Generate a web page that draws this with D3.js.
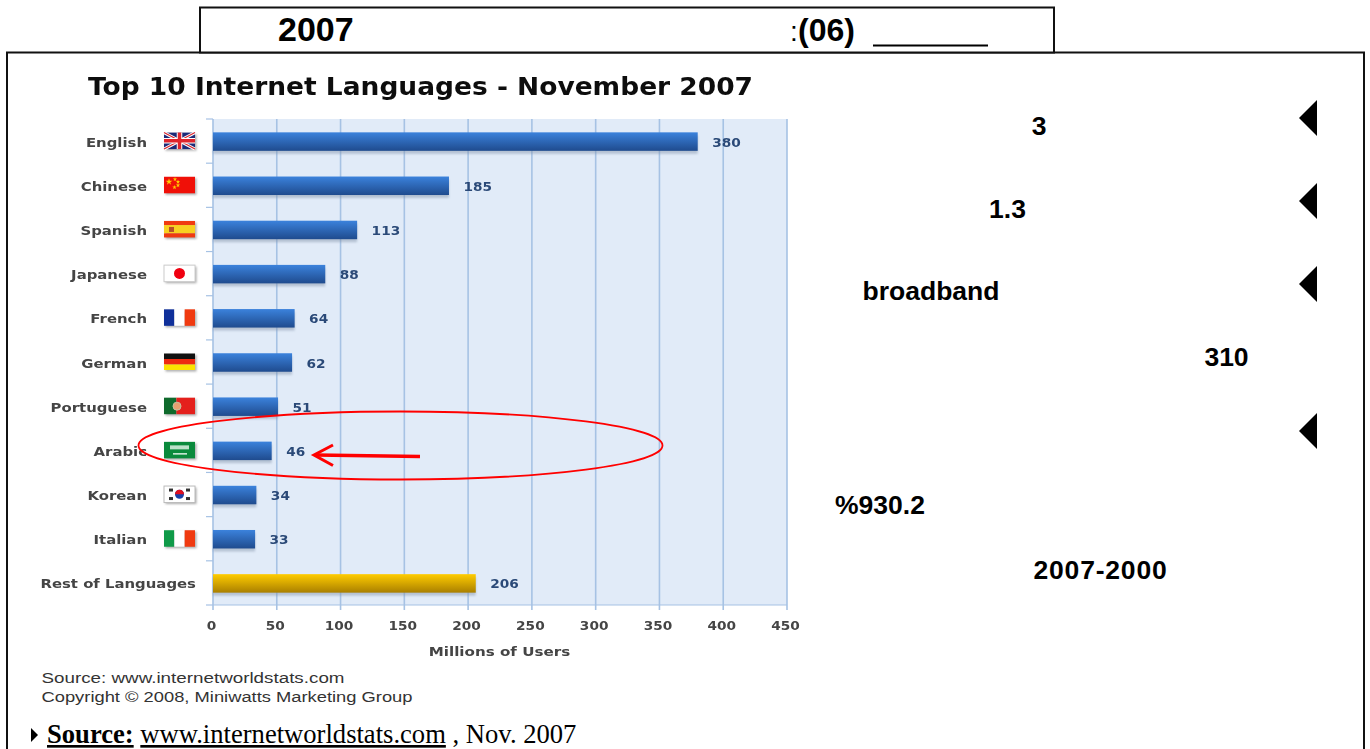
<!DOCTYPE html>
<html>
<head>
<meta charset="utf-8">
<style>
  html, body { margin: 0; padding: 0; background: #fff; overflow: hidden; }
  svg { display: block; }
</style>
<script src="https://cdn.jsdelivr.net/npm/d3@7"></script>
</head>
<body>
<svg id="svg" width="1370" height="749"></svg>
<script>
const languages = ['English', 'Chinese', 'Spanish', 'Japanese', 'French', 'German', 'Portuguese', 'Arabic', 'Korean', 'Italian', 'Rest of Languages']
const users = [380, 185, 113, 88, 64, 62, 51, 46, 34, 33, 206]
const xTicks = [0, 50, 100, 150, 200, 250, 300, 350, 400, 450]

const data = languages.map((language, i) => ({ language, users: users[i] }))

const svg = d3.select('#svg')
const chartFont = '"DejaVu Sans", Verdana, sans-serif'
const arial = '"Liberation Sans", Arial, sans-serif'

const x = d3.scaleLinear().domain([0, 450]).range([213, 787])
const y = d3.scaleBand().domain(languages).range([119, 605])

// the chart image in the reference is stretched sideways
const stretch = (sel, k) => sel.each(function () {
  d3.select(this)
    .attr('textLength', this.getComputedTextLength() * k)
    .attr('lengthAdjust', 'spacingAndGlyphs')
})

const defs = svg.append('defs')
const gradient = (id, top, bottom) => {
  const g = defs.append('linearGradient').attr('id', id).attr('x1', 0).attr('x2', 0).attr('y1', 0).attr('y2', 1)
  g.append('stop').attr('offset', '0%').attr('stop-color', top)
  g.append('stop').attr('offset', '100%').attr('stop-color', bottom)
}
gradient('blueBar', '#3b82dc', '#1f4b8e')
gradient('goldBar', '#ffcc00', '#a97f00')
defs.append('filter').attr('id', 'soft').attr('x', '-10%').attr('y', '-30%').attr('width', '120%').attr('height', '160%')
  .append('feGaussianBlur').attr('stdDeviation', 1.2)
defs.append('filter').attr('id', 'textSoft')
  .append('feGaussianBlur').attr('stdDeviation', 0.4)

// page frames
const frames = svg.append('g').attr('fill', 'none').attr('stroke', '#111')
frames.append('rect').attr('x', 7).attr('y', 52.5).attr('width', 1357).attr('height', 720).attr('stroke-width', 2)
frames.append('rect').attr('x', 200).attr('y', 7.5).attr('width', 854).attr('height', 45).attr('fill', '#fff').attr('stroke-width', 2)

const headerText = (text, px, size) => svg.append('text')
  .attr('x', px).attr('y', 41)
  .attr('font-family', arial).attr('font-weight', 700).attr('font-size', size)
  .attr('fill', '#000').text(text)
headerText('2007', 278, 34)
svg.append('text').attr('x', 790).attr('y', 41)
  .attr('font-family', arial).attr('font-size', 28).attr('font-weight', 400).text(':')
headerText('(06)', 798, 32)
svg.append('line').attr('x1', 873).attr('x2', 988).attr('y1', 45.5).attr('y2', 45.5)
  .attr('stroke', '#000').attr('stroke-width', 2)

// chart
const chart = svg.append('g')

chart.append('rect')
  .attr('x', x(0)).attr('y', y.range()[0])
  .attr('width', x(450) - x(0)).attr('height', y.range()[1] - y.range()[0])
  .attr('fill', '#e1ebf8')

chart.append('text')
  .attr('x', 88).attr('y', 95)
  .attr('font-family', chartFont).attr('font-weight', 700).attr('font-size', 24.5)
  .attr('fill', '#111')
  .attr('filter', 'url(#textSoft)')
  .text('Top 10 Internet Languages - November 2007')
  .call(stretch, 1.08)

chart.selectAll('.grid')
  .data(xTicks)
  .join('line')
  .attr('class', 'grid')
  .attr('x1', d => x(d)).attr('x2', d => x(d))
  .attr('y1', y.range()[0]).attr('y2', y.range()[1] + 5)
  .attr('stroke', '#a6c2e4').attr('stroke-width', 1.6)

chart.append('line')
  .attr('x1', x(0)).attr('x2', x(450))
  .attr('y1', y.range()[1]).attr('y2', y.range()[1])
  .attr('stroke', '#a6c2e4').attr('stroke-width', 1.2)

// tick marks on the category axis
chart.selectAll('.ytick')
  .data(languages.concat(['end']))
  .join('line')
  .attr('class', 'ytick')
  .attr('x1', x(0) - 7).attr('x2', x(0))
  .attr('y1', (d, i) => y.range()[0] + i * y.step())
  .attr('y2', (d, i) => y.range()[0] + i * y.step())
  .attr('stroke', '#a6c2e4').attr('stroke-width', 1.2)

const barHeight = 18.5
const barY = d => y(d.language) + y.bandwidth() / 2 - barHeight / 2 + 0.5

chart.selectAll('.shadow')
  .data(data)
  .join('rect')
  .attr('class', 'shadow')
  .attr('x', x(0)).attr('y', d => barY(d) + 3)
  .attr('width', d => x(d.users) - x(0)).attr('height', barHeight)
  .attr('fill', '#7f8fa6').attr('opacity', 0.45).attr('filter', 'url(#soft)')

chart.selectAll('.bar')
  .data(data)
  .join('rect')
  .attr('class', 'bar')
  .attr('x', x(0)).attr('y', barY)
  .attr('width', d => x(d.users) - x(0)).attr('height', barHeight)
  .attr('fill', d => d.language === 'Rest of Languages' ? 'url(#goldBar)' : 'url(#blueBar)')

const labels = chart.append('g').attr('filter', 'url(#textSoft)')

labels.selectAll('.value')
  .data(data)
  .join('text')
  .attr('class', 'value')
  .attr('x', d => x(d.users) + 14.5)
  .attr('y', d => y(d.language) + y.bandwidth() / 2 + 5.5)
  .attr('font-family', chartFont).attr('font-weight', 700).attr('font-size', 12)
  .attr('fill', '#2b4a78')
  .text(d => d.users)
  .call(stretch, 1.14)

labels.selectAll('.name')
  .data(data)
  .join('text')
  .attr('class', 'name')
  .attr('x', d => d.language === 'Rest of Languages' ? 196 : 147)
  .attr('y', d => y(d.language) + y.bandwidth() / 2 + 5.5)
  .attr('text-anchor', 'end')
  .attr('font-family', chartFont).attr('font-weight', 700).attr('font-size', 12.5)
  .attr('fill', '#444')
  .text(d => d.language)
  .call(stretch, 1.19)

labels.selectAll('.tick')
  .data(xTicks)
  .join('text')
  .attr('class', 'tick')
  .attr('x', d => x(d) - 1.5)
  .attr('y', 630)
  .attr('text-anchor', 'middle')
  .attr('font-family', chartFont).attr('font-weight', 700).attr('font-size', 12)
  .attr('fill', '#444')
  .text(d => d)
  .call(stretch, 1.14)

labels.append('text')
  .attr('x', 499.5).attr('y', 656)
  .attr('text-anchor', 'middle')
  .attr('font-family', chartFont).attr('font-weight', 700).attr('font-size', 12.5)
  .attr('fill', '#444')
  .text('Millions of Users')
  .call(stretch, 1.21)

// flags, each one built from stripes
const flagStripes = {
  Chinese: { colors: ['#f01008'] },
  Spanish: { colors: ['#f03a10', '#f8d020', '#f03a10'], rows: true, weights: [1, 2, 1] },
  Japanese: { colors: ['#ffffff'] },
  French: { colors: ['#10309a', '#ffffff', '#f03a10'] },
  German: { colors: ['#111111', '#ee2a10', '#fbe200'], rows: true },
  Portuguese: { colors: ['#0f6a2c', '#e4201c'], weights: [2, 3] },
  Arabic: { colors: ['#0a8a3c'] },
  Korean: { colors: ['#ffffff'] },
  Italian: { colors: ['#0f9a48', '#ffffff', '#f03a10'] }
}
const flagW = 31
const flagH = 16.5
const flagX = 164

const flags = chart.selectAll('.flag')
  .data(data.filter(d => d.language !== 'Rest of Languages'))
  .join('g')
  .attr('class', 'flag')
  .attr('transform', d => `translate(${flagX}, ${y(d.language) + y.bandwidth() / 2 - 8.5})`)

flags.append('rect')
  .attr('x', 1.5).attr('y', 1.5).attr('width', flagW).attr('height', flagH)
  .attr('fill', '#777').attr('opacity', 0.6).attr('filter', 'url(#soft)')

flags.each(function (d) {
  const g = d3.select(this)
  const spec = flagStripes[d.language]
  if (!spec) return
  const weights = spec.weights || spec.colors.map(() => 1)
  const total = d3.sum(weights)
  let pos = 0
  spec.colors.forEach((c, i) => {
    const size = weights[i] / total
    g.append('rect')
      .attr('x', spec.rows ? 0 : pos * flagW)
      .attr('y', spec.rows ? pos * flagH : 0)
      .attr('width', spec.rows ? flagW : size * flagW)
      .attr('height', spec.rows ? size * flagH : flagH)
      .attr('fill', c)
    pos += size
  })
})

const flagOf = name => flags.filter(d => d.language === name)

const uk = flagOf('English')
uk.append('rect').attr('width', flagW).attr('height', flagH).attr('fill', '#1c2a78')
uk.append('path').attr('d', `M0,0L${flagW},${flagH}M${flagW},0L0,${flagH}`).attr('stroke', '#fff').attr('stroke-width', 3)
uk.append('path').attr('d', `M0,0L${flagW},${flagH}M${flagW},0L0,${flagH}`).attr('stroke', '#d8242c').attr('stroke-width', 1.2)
uk.append('path').attr('d', `M${flagW / 2},0V${flagH}M0,${flagH / 2}H${flagW}`).attr('stroke', '#fff').attr('stroke-width', 5.5)
uk.append('path').attr('d', `M${flagW / 2},0V${flagH}M0,${flagH / 2}H${flagW}`).attr('stroke', '#e0242c').attr('stroke-width', 3.5)

const cn = flagOf('Chinese')
cn.append('path').attr('d', d3.symbol(d3.symbolStar, 14)).attr('transform', 'translate(5,5)').attr('fill', '#fc0')
;[[11, 2.5], [14, 5], [14, 8.5], [10.5, 10.5]].forEach(p => {
  cn.append('path').attr('d', d3.symbol(d3.symbolStar, 6)).attr('transform', `translate(${p})`).attr('fill', '#fc0')
})

flagOf('Spanish').append('rect').attr('x', 5).attr('y', 6).attr('width', 5).attr('height', 5).attr('fill', '#b5502a')

const jp = flagOf('Japanese')
jp.append('rect').attr('width', flagW).attr('height', flagH).attr('fill', 'none').attr('stroke', '#ccc')
jp.append('circle').attr('cx', flagW / 2).attr('cy', flagH / 2).attr('r', 5.5).attr('fill', '#f00010')

flagOf('Portuguese').append('circle').attr('cx', 13).attr('cy', 8.5).attr('r', 4).attr('fill', '#e8a070').attr('stroke', '#c8c0a0')

const sa = flagOf('Arabic')
sa.append('rect').attr('x', 6).attr('y', 3.5).attr('width', 19).attr('height', 4).attr('fill', '#e8f6ec').attr('opacity', 0.8)
sa.append('line').attr('x1', 9).attr('x2', 23).attr('y1', 12).attr('y2', 12).attr('stroke', '#e8f6ec').attr('stroke-width', 1.4)

const kr = flagOf('Korean')
kr.append('rect').attr('width', flagW).attr('height', flagH).attr('fill', 'none').attr('stroke', '#bbb')
kr.append('circle').attr('cx', flagW / 2).attr('cy', flagH / 2).attr('r', 4.5).attr('fill', '#1840a8')
kr.append('path').attr('d', d3.arc()({ innerRadius: 0, outerRadius: 4.5, startAngle: -1.57, endAngle: 1.57 }))
  .attr('transform', `translate(${flagW / 2},${flagH / 2})`).attr('fill', '#e01020')
;[[7, 4], [24, 4], [7, 12.5], [24, 12.5]].forEach(p => {
  kr.append('rect').attr('x', p[0] - 2).attr('y', p[1] - 1.5).attr('width', 4).attr('height', 3).attr('fill', '#333')
})

// credit lines under the chart
const creditLines = ['Source: www.internetworldstats.com', 'Copyright © 2008, Miniwatts Marketing Group']
const creditWidths = [303, 371]
svg.selectAll('.credit')
  .data(creditLines)
  .join('text')
  .attr('class', 'credit')
  .attr('x', 41.5)
  .attr('y', (d, i) => 683 + i * 18.5)
  .attr('font-family', arial).attr('font-size', 15.3)
  .attr('textLength', (d, i) => creditWidths[i]).attr('lengthAdjust', 'spacingAndGlyphs')
  .attr('fill', '#333')
  .text(d => d)

// red annotation over the Arabic row
svg.append('ellipse')
  .attr('cx', 400.5).attr('cy', 445.5).attr('rx', 262).attr('ry', 34)
  .attr('fill', 'none').attr('stroke', '#f00').attr('stroke-width', 1.8)
const arrow = svg.append('g').attr('fill', 'none').attr('stroke', '#f00')
arrow.append('line').attr('x1', 420).attr('y1', 456.5).attr('x2', 316).attr('y2', 455).attr('stroke-width', 3.6)
arrow.append('path').attr('d', 'M333,445L314,455L333,465.5').attr('stroke-width', 3)

// text column on the right
const noteTexts = ['3', '1.3', 'broadband', '310', '%930.2', '2007-2000']
const noteX = [1039, 1007.5, 931, 1226.5, 880, 1100.5]
const noteY = [135, 218, 300, 366, 514, 579]
svg.selectAll('.note')
  .data(noteTexts)
  .join('text')
  .attr('class', 'note')
  .attr('x', (d, i) => noteX[i]).attr('y', (d, i) => noteY[i])
  .attr('text-anchor', 'middle')
  .attr('font-family', arial).attr('font-weight', 700).attr('font-size', 26.5)
  .attr('letter-spacing', d => d.includes('-') ? 0.8 : 0)
  .attr('fill', '#000')
  .text(d => d)

// bullet markers
const bulletY = [118, 201, 284, 431]
svg.selectAll('.bullet')
  .data(bulletY)
  .join('path')
  .attr('class', 'bullet')
  .attr('d', d => `M1299,${d}L1317,${d - 18}V${d + 18}Z`)
  .attr('fill', '#000')

// source line at the bottom
svg.append('path').attr('d', 'M31,728L38,735L31,742Z').attr('fill', '#000')
const source = svg.append('text')
  .attr('x', 47).attr('y', 743)
  .attr('font-family', '"Liberation Serif", "Times New Roman", serif').attr('font-size', 26.6)
  .attr('fill', '#000')
source.append('tspan').attr('font-weight', 700).attr('text-decoration', 'underline').text('Source:')
source.append('tspan').text(' ')
source.append('tspan').attr('text-decoration', 'underline').text('www.internetworldstats.com')
source.append('tspan').text(' , Nov. 2007')
</script>
</body>
</html>
